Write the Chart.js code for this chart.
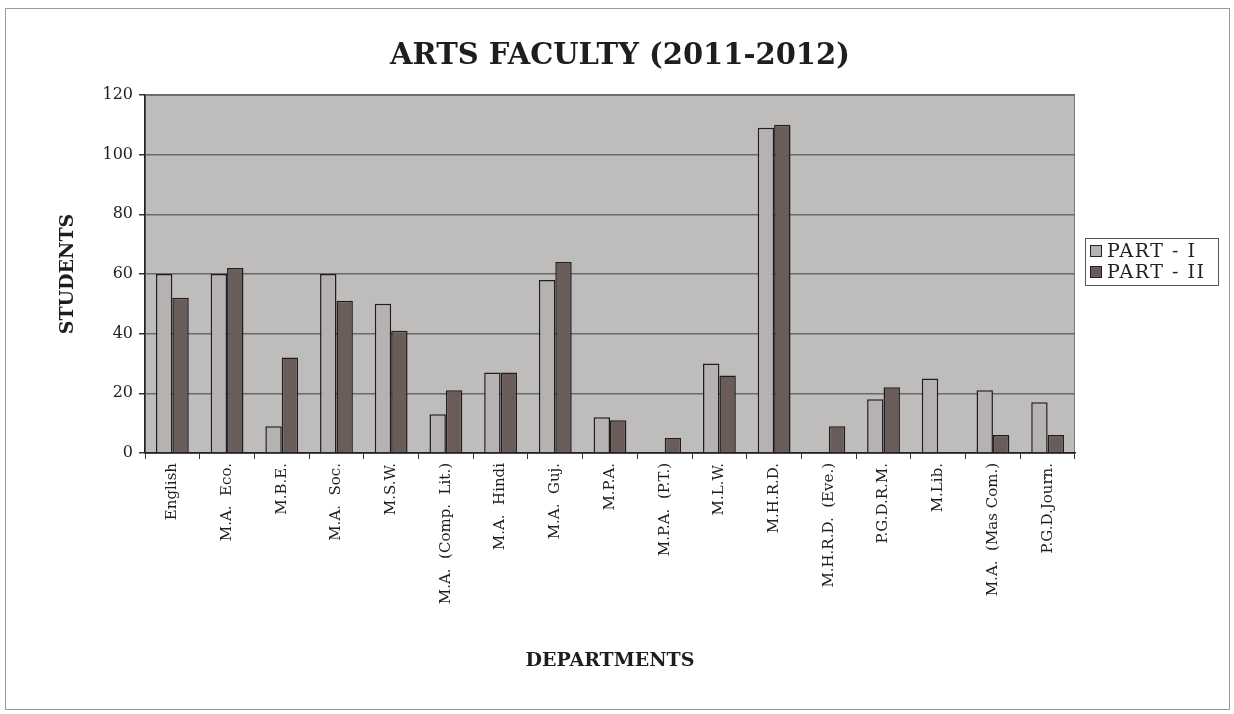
<!DOCTYPE html>
<html>
<head>
<meta charset="utf-8">
<script src="https://cdn.jsdelivr.net/npm/chart.js@4.4.1/dist/chart.umd.min.js"></script>
<style>
  html, body { margin: 0; padding: 0; background: #fff; }
  #wrap { width: 1234px; height: 714px; position: relative; }
</style>
</head>
<body>
<div id="wrap"><canvas id="chartArts" width="1234" height="714"></canvas></div>
<script>
// ---- data ----
const departments = [
  "English", "M.A.  Eco.", "M.B.E.", "M.A.  Soc.", "M.S.W.", "M.A.  (Comp.  Lit.)",
  "M.A.  Hindi", "M.A.  Guj.", "M.P.A.", "M.P.A.  (P.T.)", "M.L.W.", "M.H.R.D.",
  "M.H.R.D.  (Eve.)", "P.G.D.R.M.", "M.Lib.", "M.A.  (Mas Com.)", "P.G.D.Journ."
];
const partOne = [60, 60, 9, 60, 50, 13, 27, 58, 12, 0, 30, 109, 0, 18, 25, 21, 17];
const partTwo = [52, 62, 32, 51, 41, 21, 27, 64, 11, 5, 26, 110, 9, 22, 0, 6, 6];
const yTicks = [0, 20, 40, 60, 80, 100, 120];
const chartTitle = "ARTS FACULTY (2011-2012)";

const serif = "'DejaVu Serif', 'Liberation Serif', serif";

// fondo blanco + marco exterior + fondo del área de trazado, título y leyenda
const framePlugin = {
  id: "frame",
  beforeDraw(chart) {
    const c = chart.ctx;
    const a = chart.chartArea;
    c.save();
    c.fillStyle = "#ffffff";
    c.fillRect(0, 0, chart.width, chart.height);
    c.strokeStyle = "#9a9a9a";
    c.lineWidth = 1;
    c.strokeRect(5.5, 8.5, 1224, 701);
    c.fillStyle = "#bfbcbc";
    c.fillRect(a.left, a.top, a.right - a.left, a.bottom - a.top);
    c.strokeStyle = "#7a7a7a";
    c.strokeRect(a.left + 0.5, a.top + 0.5, a.right - a.left - 1, a.bottom - a.top);
    c.restore();
  },
  afterDraw(chart) {
    const c = chart.ctx;
    c.save();
    // título
    c.fillStyle = "#1e1e1e";
    c.font = "bold 29px " + serif;
    c.textAlign = "center";
    c.textBaseline = "middle";
    c.fillText(chartTitle, 620, 56);

    // leyenda con recuadro
    const x = 1085, y = 238, w = 133, h = 47;
    c.fillStyle = "#ffffff";
    c.fillRect(x, y, w, h);
    c.strokeStyle = "#555";
    c.lineWidth = 1;
    c.strokeRect(x + 0.5, y + 0.5, w, h);
    c.font = "19px " + serif;
    c.letterSpacing = "1.5px";
    c.textAlign = "left";
    chart.data.datasets.forEach((ds, i) => {
      const ry = y + 13 + i * 21;
      c.fillStyle = ds.backgroundColor;
      c.fillRect(x + 5, ry - 6, 12, 12);
      c.strokeStyle = "#222";
      c.strokeRect(x + 5.5, ry - 5.5, 11, 11);
      c.fillStyle = "#222";
      c.fillText(ds.label, x + 22, ry + 1);
    });
    c.restore();
  }
};

const ctx = document.getElementById("chartArts");

new Chart(ctx, {
  type: "bar",
  data: {
    labels: departments,
    datasets: [
      {
        label: "PART - I",
        data: partOne,
        backgroundColor: "#b6b2b2",
        borderColor: "#1e1e1e",
        borderWidth: 1.5,
        categoryPercentage: 0.6,
        barPercentage: 1.0,
      },
      {
        label: "PART - II",
        data: partTwo,
        backgroundColor: "#6a5d59",
        borderColor: "#1e1e1e",
        borderWidth: 1.5,
        categoryPercentage: 0.6,
        barPercentage: 1.0,
      },
    ],
  },
  options: {
    responsive: false,
    animation: false,
    layout: { padding: { left: 57, right: 159, top: 95, bottom: 42 } },
    plugins: {
      legend: { display: false },
      tooltip: { enabled: false },
      title: { display: false },
    },
    scales: {
      x: {
        offset: true,
        grid: {
          offset: true,
          drawOnChartArea: false,
          tickLength: 6,
          color: "#333",
        },
        border: { display: true, color: "#222", width: 1.5 },
        ticks: {
          color: "#1e1e1e",
          font: { family: serif, size: 15 },
          maxRotation: 90,
          minRotation: 90,
          autoSkip: false,
          padding: 4,
        },
        title: {
          display: true,
          text: "DEPARTMENTS",
          color: "#1e1e1e",
          font: { family: serif, size: 19, weight: "bold" },
          padding: { top: 0, bottom: 0 },
        },
        afterFit(scale) { scale.height = 219; },
      },
      y: {
        min: 0,
        max: 120,
        afterBuildTicks(scale) { scale.ticks = yTicks.map((v) => ({ value: v })); },
        grid: { color: "#696969", lineWidth: 1.5, tickLength: 6, tickColor: "#333" },
        border: { display: true, color: "#222", width: 1.5 },
        ticks: {
          color: "#1e1e1e",
          font: { family: serif, size: 16 },
          padding: 6,
        },
        title: {
          display: true,
          text: "STUDENTS",
          color: "#1e1e1e",
          font: { family: serif, size: 19, weight: "bold" },
          padding: { top: 0, bottom: 0 },
        },
        afterFit(scale) { scale.width = 88; },
      },
    },
  },
  plugins: [framePlugin],
});
</script>
</body>
</html>
